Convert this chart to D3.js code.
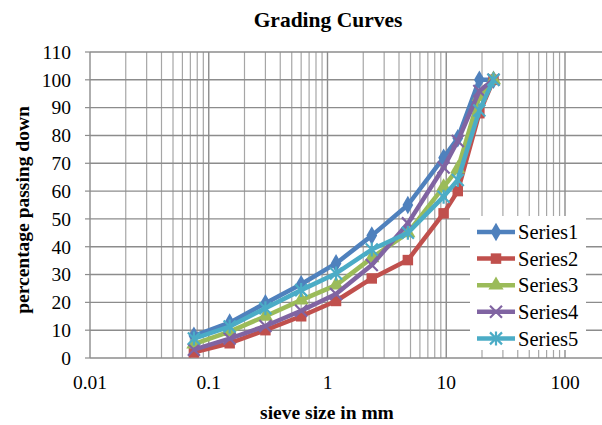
<!DOCTYPE html>
<html>
<head>
<meta charset="utf-8">
<script src="https://cdn.jsdelivr.net/npm/d3@7"></script>
<style>
  body { margin: 0; background: #fff; }
  text { font-family: "Liberation Serif", "Times New Roman", serif; fill: #000; }
</style>
</head>
<body>
<div id="container"></div>
<script>
/* DATA */
const sieves = [0.075, 0.15, 0.3, 0.6, 1.18, 2.36, 4.75, 9.5, 12.5, 19, 25];
const series1 = [8, 12.7, 19.7, 26.5, 34, 44, 55, 72, 79, 100, 100];
const series2 = [2, 5.3, 10, 15, 20.5, 28.6, 35.2, 52, 60, 88, 100];
const series3 = [5, 9.5, 15, 20.8, 26.2, 36, 45, 61.5, 68, 94, 100];
const series4 = [3, 7, 11.5, 17, 23, 33.4, 48.4, 68.5, 78, 96, 100];
const series5 = [7, 11.3, 17.9, 24.4, 30.4, 39, 45, 58, 64, 89, 100];
const seriesNames = ["Series1", "Series2", "Series3", "Series4", "Series5"];
const xTicks = [0.01, 0.1, 1, 10, 100];
const yTicks = d3.range(0, 111, 10);

/* CONSTANTS */
const width = 602, height = 425;
const margin = {top: 52, bottom: 67, left: 90, right: 37};
const colors = ["#4F81BD", "#C0504D", "#9BBB59", "#8064A2", "#4BACC6"];
const symbols = [d3.symbolDiamond, d3.symbolSquare, d3.symbolTriangle, "x", "star"];

const allSeries = [series1, series2, series3, series4, series5].map((vals, i) => ({
  name: seriesNames[i],
  color: colors[i],
  symbol: symbols[i],
  points: vals.map((v, j) => ({x: sieves[j], y: v}))
}));

/* SCALES */
const xScale = d3.scaleLog()
  .domain([0.01, 100])
  .range([margin.left, width - margin.right]);
const yScale = d3.scaleLinear()
  .domain([0, 110])
  .range([height - margin.bottom, margin.top]);

const svg = d3.select("#container").append("svg")
  .attr("width", width)
  .attr("height", height);

const plotRight = width;

// minor + major vertical grid
const minor = [];
[0.01, 0.1, 1, 10].forEach(d => { for (let k = 2; k <= 9; k++) minor.push(d * k); });
svg.append("g").selectAll("line").data(minor).join("line")
  .attr("x1", d => xScale(d)).attr("x2", d => xScale(d))
  .attr("y1", yScale(110)).attr("y2", yScale(0))
  .attr("stroke", "#a6a6a6").attr("stroke-width", 1.2);
svg.append("g").selectAll("line").data(xTicks).join("line")
  .attr("x1", d => xScale(d)).attr("x2", d => xScale(d))
  .attr("y1", yScale(110)).attr("y2", yScale(0))
  .attr("stroke", "#8c8c8c").attr("stroke-width", 1.4);
// horizontal grid
svg.append("g").selectAll("line").data(yTicks).join("line")
  .attr("x1", margin.left).attr("x2", plotRight)
  .attr("y1", d => yScale(d)).attr("y2", d => yScale(d))
  .attr("stroke", "#8c8c8c").attr("stroke-width", 1.4);

// y axis ticks
svg.append("g").selectAll("line").data(yTicks).join("line")
  .attr("x1", margin.left - 5).attr("x2", margin.left)
  .attr("y1", d => yScale(d)).attr("y2", d => yScale(d))
  .attr("stroke", "#8c8c8c").attr("stroke-width", 1.2);

// tick labels
svg.append("g").selectAll("text").data(yTicks).join("text")
  .attr("x", margin.left - 19).attr("y", d => yScale(d))
  .attr("dy", "0.35em").attr("text-anchor", "end")
  .attr("font-size", 19.5).text(d => d);
svg.append("g").selectAll("text").data(xTicks).join("text")
  .attr("x", d => xScale(d)).attr("y", height - margin.bottom + 31)
  .attr("text-anchor", "middle")
  .attr("font-size", 19.5).text(d => d);

// titles
svg.append("text").attr("x", 328).attr("y", 27)
  .attr("text-anchor", "middle").attr("font-size", 21.5).attr("font-weight", "bold")
  .text("Grading Curves");
svg.append("text").attr("x", 327).attr("y", 419)
  .attr("text-anchor", "middle").attr("font-size", 19.5).attr("font-weight", "bold")
  .text("sieve size in mm");
svg.append("text")
  .attr("transform", `translate(29,${(margin.top + height - margin.bottom) / 2 + 5}) rotate(-90)`)
  .attr("text-anchor", "middle").attr("font-size", 19.5).attr("font-weight", "bold")
  .text("percentage passing down");

/* LINES + MARKERS */
const line = d3.line().x(d => xScale(d.x)).y(d => yScale(d.y));

function drawMarker(g, sym, color, cx, cy) {
  if (sym === "x") {
    g.append("path").attr("d", `M${cx-6},${cy-6}L${cx+6},${cy+6}M${cx-6},${cy+6}L${cx+6},${cy-6}`)
      .attr("stroke", color).attr("stroke-width", 2.2).attr("fill", "none");
  } else if (sym === "star") {
    g.append("path").attr("d", `M${cx-6},${cy-6}L${cx+6},${cy+6}M${cx-6},${cy+6}L${cx+6},${cy-6}M${cx},${cy-7}L${cx},${cy+7}`)
      .attr("stroke", color).attr("stroke-width", 2.2).attr("fill", "none");
  } else {
    const size = sym === d3.symbolSquare ? 110 : 100;
    g.append("path").attr("d", d3.symbol(sym, size)())
      .attr("transform", `translate(${cx},${cy})`)
      .attr("fill", color);
  }
}

allSeries.forEach(s => {
  const g = svg.append("g");
  g.append("path").datum(s.points)
    .attr("d", line).attr("fill", "none")
    .attr("stroke", s.color).attr("stroke-width", 4.5)
    .attr("stroke-linejoin", "round");
  s.points.forEach(p => drawMarker(g, s.symbol, s.color, xScale(p.x), yScale(p.y)));
});

/* LEGEND */
const legend = svg.append("g");
legend.append("rect").attr("x", 470).attr("y", 216).attr("width", 116).attr("height", 134)
  .attr("fill", "#fff");
allSeries.forEach((s, i) => {
  const y = 232 + i * 26.6;
  legend.append("line").attr("x1", 477).attr("x2", 515).attr("y1", y).attr("y2", y)
    .attr("stroke", s.color).attr("stroke-width", 4.5);
  drawMarker(legend, s.symbol, s.color, 496, y);
  legend.append("text").attr("x", 518).attr("y", y).attr("dy", "0.35em")
    .attr("font-size", 20.5).text(s.name);
});
</script>
</body>
</html>
